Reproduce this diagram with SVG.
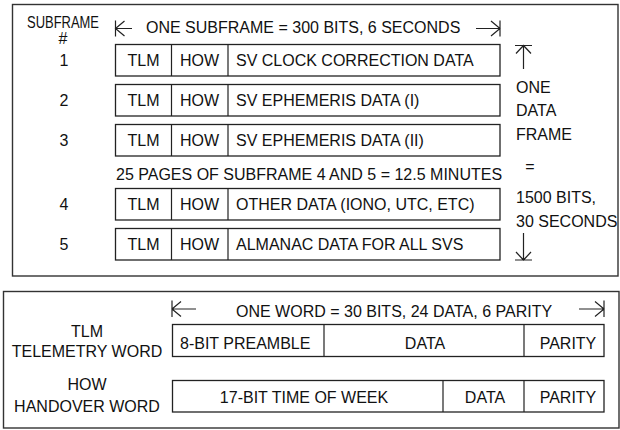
<svg xmlns="http://www.w3.org/2000/svg" width="620" height="430" viewBox="0 0 620 430">
  <style>
    text { font-family: "Liberation Sans", Arial, sans-serif; font-size: 16px; fill: #111; }
    .mid { text-anchor: middle; }
    .panel { fill: #fff; stroke: #333; stroke-width: 1.4; }
    .box { fill: #fff; stroke: #222; stroke-width: 1.3; }
    .ln { stroke: #222; stroke-width: 1.2; fill: none; }
  </style>
  <rect width="620" height="430" fill="#fff"/>

  <!-- panels -->
  <rect class="panel" x="12.5" y="4.5" width="605.5" height="271.5"/>
  <rect class="panel" x="3.5" y="291.5" width="615.5" height="136.5"/>

  <g id="subframe-header">
    <text x="63" y="27.5" class="mid" font-size="14.5" textLength="72" lengthAdjust="spacingAndGlyphs">SUBFRAME</text>
    <text x="63" y="43.5" class="mid" font-size="14.5">#</text>
    <text x="146" y="33">ONE SUBFRAME = 300 BITS, 6 SECONDS</text>
  </g>

  <g id="sf1">
    <text x="64" y="66" class="mid">1</text>
    <rect class="box" x="115.5" y="44.5" width="384.5" height="31.5"/>
    <path class="ln" d="M171.5 44.5 V76 M228 44.5 V76"/>
    <text x="143.5" y="66" class="mid">TLM</text>
    <text x="199.5" y="66" class="mid">HOW</text>
    <text x="236" y="66">SV CLOCK CORRECTION DATA</text>
  </g>
  <g id="sf2">
    <text x="64" y="106" class="mid">2</text>
    <rect class="box" x="115.5" y="84.5" width="384.5" height="31.5"/>
    <path class="ln" d="M171.5 84.5 V116 M228 84.5 V116"/>
    <text x="143.5" y="106" class="mid">TLM</text>
    <text x="199.5" y="106" class="mid">HOW</text>
    <text x="236" y="106">SV EPHEMERIS DATA (I)</text>
  </g>
  <g id="sf3">
    <text x="64" y="146" class="mid">3</text>
    <rect class="box" x="115.5" y="124.5" width="384.5" height="31.5"/>
    <path class="ln" d="M171.5 124.5 V156 M228 124.5 V156"/>
    <text x="143.5" y="146" class="mid">TLM</text>
    <text x="199.5" y="146" class="mid">HOW</text>
    <text x="236" y="146">SV EPHEMERIS DATA (II)</text>
  </g>
  <text x="116" y="180">25 PAGES OF SUBFRAME 4 AND 5 = 12.5 MINUTES</text>
  <g id="sf4">
    <text x="64" y="210" class="mid">4</text>
    <rect class="box" x="115.5" y="188.5" width="384.5" height="31.5"/>
    <path class="ln" d="M171.5 188.5 V220 M228 188.5 V220"/>
    <text x="143.5" y="210" class="mid">TLM</text>
    <text x="199.5" y="210" class="mid">HOW</text>
    <text x="236" y="210">OTHER DATA (IONO, UTC, ETC)</text>
  </g>
  <g id="sf5">
    <text x="64" y="250" class="mid">5</text>
    <rect class="box" x="115.5" y="228.5" width="384.5" height="31.5"/>
    <path class="ln" d="M171.5 228.5 V260 M228 228.5 V260"/>
    <text x="143.5" y="250" class="mid">TLM</text>
    <text x="199.5" y="250" class="mid">HOW</text>
    <text x="236" y="250">ALMANAC DATA FOR ALL SVS</text>
  </g>

  <g id="frame-note">
    <text x="516" y="93">ONE</text>
    <text x="516" y="116">DATA</text>
    <text x="516" y="140">FRAME</text>
    <text x="530" y="172" class="mid">=</text>
    <text x="516" y="203">1500 BITS,</text>
    <text x="516" y="227">30 SECONDS</text>
  </g>

  <g id="word-header">
    <text x="236" y="317">ONE WORD = 30 BITS, 24 DATA, 6 PARITY</text>
  </g>
  <g id="tlm-word">
    <text x="87" y="336.5" class="mid">TLM</text>
    <text x="87" y="357" class="mid">TELEMETRY WORD</text>
    <rect class="box" x="172.5" y="324.5" width="431.5" height="32"/>
    <path class="ln" d="M324 324.5 V356.5 M524 324.5 V356.5"/>
    <text x="180" y="348.5">8-BIT PREAMBLE</text>
    <text x="425" y="348.5" class="mid">DATA</text>
    <text x="568" y="348.5" class="mid">PARITY</text>
  </g>
  <g id="how-word">
    <text x="87" y="390" class="mid">HOW</text>
    <text x="87" y="411.5" class="mid">HANDOVER WORD</text>
    <rect class="box" x="172.5" y="380.5" width="431.5" height="31.5"/>
    <path class="ln" d="M443 380.5 V412 M524 380.5 V412"/>
    <text x="304" y="403" class="mid">17-BIT TIME OF WEEK</text>
    <text x="485" y="403" class="mid">DATA</text>
    <text x="568" y="403" class="mid">PARITY</text>
  </g>

  <g id="connectors">
    <!-- subframe width -->
    <path class="ln" d="M115.5 20.5 V36.5 M115.5 28.5 H132 M124.5 21 L115.5 28.5 L124.5 36"/>
    <path class="ln" d="M500 20.5 V36.5 M500 28.5 H476 M491 21 L500 28.5 L491 36"/>
    <!-- data frame span -->
    <path class="ln" d="M515 45.5 H532 M523.5 45.5 V69 M516 53.5 L523.5 45.5 L531 53.5"/>
    <path class="ln" d="M515 260 H532 M523.5 260 V233 M516 252 L523.5 260 L531 252"/>
    <!-- word width -->
    <path class="ln" d="M172 300.5 V317 M172 309 H196 M181 301.5 L172 309 L181 316.5"/>
    <path class="ln" d="M604 300.5 V317 M604 309 H579 M595 301.5 L604 309 L595 316.5"/>
  </g>
</svg>
